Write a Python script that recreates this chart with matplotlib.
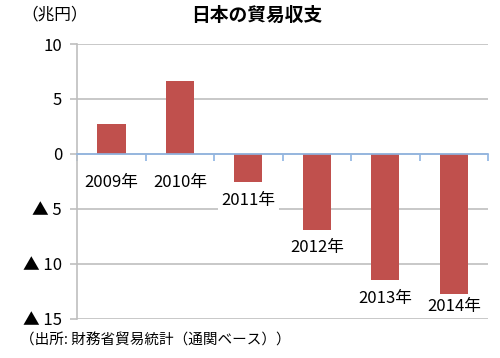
import matplotlib
matplotlib.use("Agg")
import matplotlib.pyplot as plt
import numpy as np

plt.rcParams['font.family'] = ['Noto Sans CJK JP', 'DejaVu Sans']

categories = ["2009年", "2010年", "2011年", "2012年", "2013年", "2014年"]
values = [2.7, 6.6, -2.6, -6.9, -11.5, -12.8]
yticks = [10, 5, 0, -5, -10, -15]
yticklabels = ["10", "5", "0", "▲ 5", "▲ 10", "▲ 15"]
title = "日本の貿易収支"
unit = "（兆円）"
source = "（出所: 財務省貿易統計（通関ベース））"

fig = plt.figure(figsize=(5.0, 3.58), dpi=100)
ax = fig.add_axes([0.1546, 0.1103, 0.8214, 0.7667])

x = np.arange(len(categories))
ax.bar(x, values, width=0.41, color="#C0504D", zorder=3)

ax.set_xlim(-0.5, len(categories) - 0.5)
ax.set_ylim(-15, 10)
ax.set_yticks(yticks)
ax.set_yticklabels(yticklabels, fontsize=12)
ax.yaxis.grid(True, color="#BFBFBF", lw=1.2, zorder=0)
ax.set_axisbelow(True)

for s in ["top", "right"]:
    ax.spines[s].set_visible(False)
ax.spines["left"].set_color("#BFBFBF")
ax.spines["left"].set_linewidth(1.2)
ax.spines["bottom"].set_position(("data", 0))
ax.spines["bottom"].set_color("#8EB4E3")
ax.spines["bottom"].set_linewidth(1.2)
ax.spines["bottom"].set_zorder(4)
ax.set_xticks(np.arange(-0.5, len(categories), 1.0))
ax.set_xticklabels([])
ax.tick_params(axis="x", direction="out", length=5, color="#8EB4E3", width=1.2)
ax.tick_params(axis="y", direction="out", length=5, color="#BFBFBF", width=1.2, pad=6)

for xi, v, lab in zip(x, values, categories):
    if v >= 0:
        ly = -2.64
    else:
        ly = max(v - 1.64, -13.9)
    ax.text(xi, ly, lab, ha="center", va="center", fontsize=12, zorder=5,
            bbox=dict(facecolor="white", edgecolor="none", pad=2.5))

fig.text(0.514, 0.958, title, ha="center", va="center", fontsize=13.5, fontweight="bold")
fig.text(0.11, 0.958, unit, ha="center", va="center", fontsize=12)
fig.text(0.04, 0.05, source, ha="left", va="center", fontsize=10.5)

fig.savefig("out.png", dpi=100)
